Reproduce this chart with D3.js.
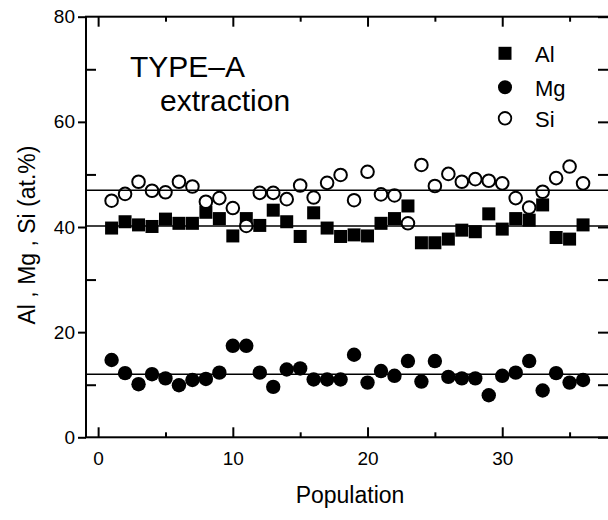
<!DOCTYPE html>
<html><head><meta charset="utf-8">
<script src="https://cdn.jsdelivr.net/npm/d3@7"></script>
<style>body{margin:0;background:#fff}svg{display:block}text{font-family:"Liberation Sans",Arial,Helvetica,sans-serif;fill:#000}</style>
</head><body><svg id="c" width="608" height="520"></svg>
<script>
const population = d3.range(1, 37);
const alValues = [39.8,41.0,40.4,40.1,41.5,40.7,40.7,42.8,41.6,38.3,41.6,40.3,43.2,41.0,38.2,42.7,39.8,38.2,38.5,38.3,40.7,41.6,44.0,37.0,37.0,37.7,39.4,39.1,42.5,39.6,41.6,41.3,44.2,38.0,37.7,40.4];
const mgValues = [14.7,12.2,10.1,12.0,11.2,9.9,10.9,11.1,12.3,17.4,17.4,12.3,9.6,12.9,13.1,11.0,11.0,11.0,15.7,10.4,12.6,11.7,14.5,10.6,14.5,11.5,11.2,11.2,8.0,11.7,12.3,14.5,8.9,12.2,10.4,10.9];
const siValues = [45.0,46.3,48.6,46.9,46.6,48.6,47.7,44.8,45.5,43.6,40.2,46.5,46.5,45.3,47.9,45.6,48.4,49.9,45.1,50.5,46.2,46.0,40.7,51.8,47.8,50.1,48.6,49.1,48.8,48.3,45.5,43.7,46.7,49.3,51.5,48.3];
const meanLines = [{name:"Al", value:40.2},{name:"Mg", value:12.0},{name:"Si", value:47.0}];
const xTicksMajor = [0,10,20,30];
const xTicksMinor = [5,15,25,35];
const yTicksMajor = [0,20,40,60,80];
const yTicksMinor = [10,30,50,70];
const legendItems = ["Al","Mg","Si"];

const svg = d3.select("#c");
const L = 86, R = 610, T = 16.7, B = 437.3;
const x = d3.scaleLinear().domain([-0.9, 38]).range([L, R]);
const y = d3.scaleLinear().domain([0, 80]).range([B, T]);

// frame
svg.append("rect").attr("x", L).attr("y", T).attr("width", R - L).attr("height", B - T)
  .attr("fill", "none").attr("stroke", "#000").attr("stroke-width", 2);

// bottom axis ticks (inward)
const gB = svg.append("g").attr("transform", `translate(0,${B})`);
gB.call(d3.axisBottom(x).tickValues(xTicksMajor).tickSize(-10).tickPadding(14).tickFormat(d3.format("d")));
const gBm = svg.append("g").attr("transform", `translate(0,${B})`);
gBm.call(d3.axisBottom(x).tickValues(xTicksMinor).tickSize(-5).tickFormat(""));
// top axis ticks
const gT = svg.append("g").attr("transform", `translate(0,${T})`);
gT.call(d3.axisTop(x).tickValues(xTicksMajor).tickSize(-10).tickFormat(""));
const gTm = svg.append("g").attr("transform", `translate(0,${T})`);
gTm.call(d3.axisTop(x).tickValues(xTicksMinor).tickSize(-5).tickFormat(""));
// left axis: majors outward, minors inward
const gL = svg.append("g").attr("transform", `translate(${L},0)`);
gL.call(d3.axisLeft(y).tickValues(yTicksMajor).tickSize(8).tickPadding(3).tickFormat(d3.format("d")));
const gLm = svg.append("g").attr("transform", `translate(${L},0)`);
gLm.call(d3.axisLeft(y).tickValues(yTicksMinor).tickSize(-10).tickFormat(""));
// right axis ticks inward
const gR = svg.append("g").attr("transform", `translate(${R},0)`);
gR.call(d3.axisRight(y).tickValues(yTicksMajor.concat(yTicksMinor)).tickSize(-12).tickFormat(""));

svg.selectAll(".domain").remove();
svg.selectAll(".tick line").attr("stroke", "#000").attr("stroke-width", 2);
svg.selectAll(".tick text").attr("font-size", 19).attr("font-family", '"Liberation Sans",Arial,sans-serif').attr("fill", "#000");

// data markers
const plot = svg.append("g");
const sq = 13;
plot.selectAll("rect.al").data(population).enter().append("rect").attr("class", "al")
  .attr("x", (d, i) => x(d) - sq / 2).attr("y", (d, i) => y(alValues[i]) - sq / 2)
  .attr("width", sq).attr("height", sq).attr("fill", "#000");
plot.selectAll("circle.mg").data(population).enter().append("circle").attr("class", "mg")
  .attr("cx", d => x(d)).attr("cy", (d, i) => y(mgValues[i])).attr("r", 7.2).attr("fill", "#000");
plot.selectAll("circle.si").data(population).enter().append("circle").attr("class", "si")
  .attr("cx", d => x(d)).attr("cy", (d, i) => y(siValues[i])).attr("r", 6.3)
  .attr("fill", "#fff").attr("stroke", "#000").attr("stroke-width", 2);

// mean lines
svg.selectAll("line.mean").data(meanLines).enter().append("line").attr("class", "mean")
  .attr("x1", L).attr("x2", R).attr("y1", d => y(d.value)).attr("y2", d => y(d.value))
  .attr("stroke", "#000").attr("stroke-width", 1.6);

// annotation
svg.append("text").attr("x", 130).attr("y", 77).attr("font-size", 30).text("TYPE\u2013A");
svg.append("text").attr("x", 160).attr("y", 111).attr("font-size", 30).text("extraction");

// legend
const lg = svg.append("g");
const ly = [53.3, 87.3, 118.3];
lg.append("rect").attr("x", 505 - 6.5).attr("y", ly[0] - 6.5).attr("width", 13).attr("height", 13).attr("fill", "#000");
lg.append("circle").attr("cx", 505).attr("cy", ly[1]).attr("r", 7).attr("fill", "#000");
lg.append("circle").attr("cx", 505).attr("cy", ly[2]).attr("r", 6.3).attr("fill", "#fff").attr("stroke", "#000").attr("stroke-width", 1.8);
lg.selectAll("text").data(legendItems).enter().append("text")
  .attr("x", 535).attr("y", (d, i) => ly[i] + 8.5).attr("font-size", 22).text(d => d);

// axis titles
svg.append("text").attr("x", 350).attr("y", 503).attr("text-anchor", "middle").attr("font-size", 23).text("Population");
svg.append("text").attr("transform", "translate(35,235) rotate(-90)").attr("text-anchor", "middle").attr("font-size", 23).text("Al , Mg , Si (at.%)");
</script></body></html>
